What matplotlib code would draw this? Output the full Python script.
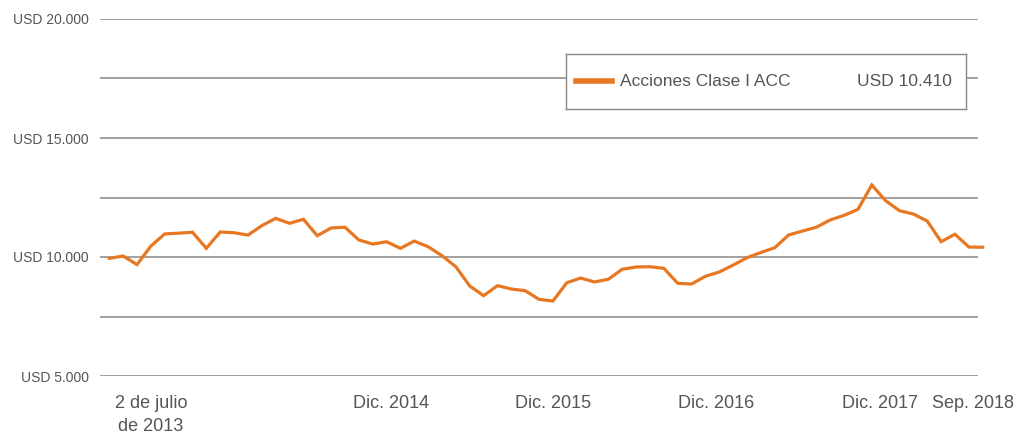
import matplotlib
matplotlib.use("Agg")
import matplotlib.pyplot as plt
from matplotlib.lines import Line2D
import matplotlib.font_manager as fm

# monthly values, July 2013 - Sep 2018
values = [9945, 10040, 9680, 10460, 10970, 11000, 11040, 10365, 11050, 11020,
          10920, 11315, 11625, 11415, 11585, 10895, 11220, 11250, 10715, 10545,
          10640, 10365, 10670, 10430, 10055, 9590, 8780, 8375, 8795, 8655,
          8585, 8220, 8150, 8920, 9115, 8950, 9065, 9485, 9580, 9590,
          9525, 8895, 8865, 9190, 9370, 9660, 9970, 10190, 10390, 10925,
          11090, 11250, 11555, 11750, 12000, 13025, 12365, 11945, 11805, 11510,
          10645, 10955, 10420, 10410]

tick_pos = [3.0, 20.3, 32.0, 43.8, 55.6, 62.3]
tick_labels = ["2 de julio\nde 2013", "Dic. 2014", "Dic. 2015", "Dic. 2016",
               "Dic. 2017", "Sep. 2018"]
grid_vals = [5000, 7500, 10000, 12500, 15000, 17500, 20000]
label_vals = [5000, 10000, 15000, 20000]
series_name = "Acciones Clase I ACC"
series_last = "USD 10.410"

names = {f.name for f in fm.fontManager.ttflist}
fam = "Liberation Sans Narrow" if "Liberation Sans Narrow" in names else "Liberation Sans"
plt.rcParams["font.family"] = [fam, "DejaVu Sans"]

orange = "#E87722"
grey = "#9a9a9a"
text_c = "#555555"

fig = plt.figure(figsize=(10.16, 4.37), dpi=100)
ax = fig.add_axes([100 / 1016, 1 - 376 / 437, 878 / 1016, 357 / 437])
ax.set_xlim(-0.67, 62.66)
ax.set_ylim(5000, 20000)

for g in grid_vals:
    ax.axhline(g, color=grey, lw=1.3, zorder=1)

ax.plot(range(len(values)), values, color=orange, lw=2.3, clip_on=False,
        solid_joinstyle="miter", zorder=3)

for s in ax.spines.values():
    s.set_visible(False)
ax.set_yticks(label_vals)
ax.set_yticklabels(["USD " + f"{v:,}".replace(",", ".") for v in label_vals],
                   fontsize=10, color=text_c)
ax.set_xticks(tick_pos)
ax.set_xticklabels(tick_labels, fontsize=13, color=text_c, linespacing=1.45)
ax.tick_params(length=0)
ax.tick_params(axis="y", pad=8)
ax.tick_params(axis="x", pad=14)

# legend box
box = fig.add_axes([566 / 1016, 1 - 109 / 437, 400 / 1016, 55 / 437])
box.set_xlim(0, 400)
box.set_ylim(0, 55)
box.set_xticks([])
box.set_yticks([])
box.set_zorder(5)
for s in box.spines.values():
    s.set_color("#888888")
    s.set_linewidth(1.0)
box.add_line(Line2D([10, 46], [28, 28], color=orange, lw=4))
box.text(54, 28, series_name, fontsize=12.5, color=text_c, va="center")
box.text(386, 28, series_last, fontsize=12.5, color=text_c, va="center", ha="right")

fig.savefig("out.png", dpi=100)
